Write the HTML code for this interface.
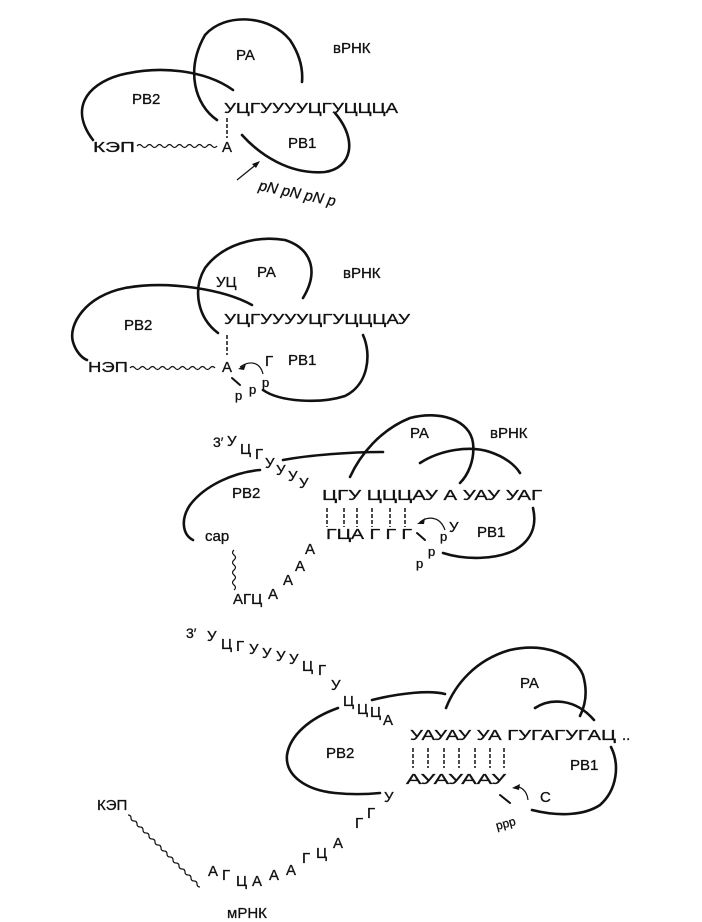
<!DOCTYPE html>
<html><head><meta charset="utf-8"><style>
html,body{margin:0;padding:0;background:#fff;}
svg{display:block;}
text{font-family:"Liberation Sans","DejaVu Sans",sans-serif;font-size:15px;fill:#111;stroke:#111;stroke-width:0.3;}
.l{fill:none;stroke:#111;stroke-width:2.6;stroke-linecap:round;}
.t{fill:none;stroke:#111;stroke-width:1.2;}
.d{fill:none;stroke:#111;stroke-width:1.5;stroke-dasharray:4 2;}
</style></head><body>
<svg width="702" height="922" viewBox="0 0 702 922" xmlns="http://www.w3.org/2000/svg">
<!-- Panel 1 -->
<path class="l" d="M217,120 C195,105 185,70 205,35 C225,12 270,15 290,40 C300,55 303,70 302,82"/>
<path class="l" d="M233,90 C205,70 160,65 120,75 C85,85 70,110 93,140"/>
<path class="l" d="M242,135 C260,155 290,175 325,172 C352,168 358,140 335,113"/>
<text x="236" y="60">PA</text>
<text x="333" y="53">вРНК</text>
<text x="132" y="104">PB2</text>
<text x="224" y="113" textLength="174" lengthAdjust="spacingAndGlyphs">УЦГУУУУЦГУЦЦЦА</text>
<text x="288" y="148">PB1</text>
<text x="93" y="152" textLength="42" lengthAdjust="spacingAndGlyphs">КЭП</text>
<path class="t" d="M137,146 q2.5,-3 5,0 t5,0 t5,0 t5,0 t5,0 t5,0 t5,0 t5,0 t5,0 t5,0 t5,0 t5,0 t5,0 t5,0 t5,0 t5,0"/>
<text x="222" y="152">А</text>
<path class="d" d="M227,118 L227,138"/>
<path class="t" d="M237,180 L258,163"/><path d="M260,161 L252,164 L256,168 Z" fill="#111"/>
<text x="258" y="190" transform="rotate(12 258 190)" font-style="italic">pN pN pN p</text>
<!-- Panel 2 -->
<path class="l" d="M218,333 C198,318 192,290 205,268 C222,245 255,235 285,240 C310,248 320,270 303,298"/>
<path class="l" d="M252,305 C225,290 170,280 125,288 C85,296 68,325 73,342 C76,352 82,358 87,360"/>
<path class="l" d="M263,390 C280,402 320,404 345,396 C368,385 372,355 363,335"/>
<text x="216" y="287">УЦ</text>
<text x="257" y="277">PA</text>
<text x="343" y="278">вРНК</text>
<text x="124" y="330">PB2</text>
<text x="224" y="324" textLength="186" lengthAdjust="spacingAndGlyphs">УЦГУУУУЦГУЦЦЦАУ</text>
<text x="288" y="365">PB1</text>
<text x="88" y="372" textLength="40" lengthAdjust="spacingAndGlyphs">НЭП</text>
<path class="t" d="M130,368 q2.5,-3 5,0 t5,0 t5,0 t5,0 t5,0 t5,0 t5,0 t5,0 t5,0 t5,0 t5,0 t5,0 t5,0 t5,0 t5,0 t5,0 t5,0"/>
<text x="222" y="372">А</text>
<path class="d" d="M227,335 L227,355"/>
<text x="265" y="366">Г</text>
<path class="t" d="M263,374 C260,362 250,360 240,367"/><path d="M238,369 L246,364 L244,370 Z" fill="#111"/>
<path class="l" d="M232,378 L240,385" style="stroke-width:2"/>
<text x="235" y="400" style="font-size:13px">p</text>
<text x="249" y="394" style="font-size:13px">p</text>
<text x="262" y="387" style="font-size:13px">p</text>
<!-- Panel 3 -->
<path class="l" d="M350,477 C360,455 380,430 410,418 C440,410 470,420 473,443 C475,460 468,475 460,483"/>
<path class="l" d="M283,460 C310,455 350,452 383,452"/>
<path class="l" d="M260,470 C235,472 205,485 190,505 C180,520 183,535 193,540"/>
<path class="l" d="M420,463 C440,450 470,445 490,452 C505,457 515,465 520,473"/>
<path class="l" d="M533,508 C537,525 532,540 515,550 C495,560 465,560 443,553"/>
<text x="213" y="447" style="font-size:14px">3′</text>
<text x="227" y="446">У</text><text x="240" y="454">Ц</text><text x="255" y="459">Г</text>
<text x="265" y="468">У</text><text x="276" y="475">У</text><text x="288" y="481">У</text><text x="299" y="488">У</text>
<text x="322" y="500" textLength="220" lengthAdjust="spacingAndGlyphs">ЦГУ ЦЦЦАУ А УАУ УАГ</text>
<g class="d"><path d="M327,508V527"/><path d="M344,508V527"/><path d="M357,508V527"/><path d="M372,508V527"/><path d="M390,508V527"/><path d="M405,508V527"/></g>
<text x="326" y="539" textLength="86" lengthAdjust="spacingAndGlyphs">ГЦА Г Г Г</text>
<text x="305" y="554">А</text><text x="295" y="571">А</text><text x="283" y="585">А</text><text x="268" y="599">А</text>
<text x="233" y="604">АГЦ</text>
<text x="205" y="541">cap</text>
<path class="t" d="M234,550 q-3,2.5 0,5 t0,5 t0,5 t0,5 t0,5 t0,5 t0,5 t0,5"/>
<text x="410" y="438">PA</text>
<text x="490" y="438">вРНК</text>
<text x="232" y="498">PB2</text>
<text x="477" y="537">PB1</text>
<text x="449" y="532">У</text>
<path class="t" d="M445,530 C440,516 428,516 420,522"/><path d="M417,524 L425,518 L424,524 Z" fill="#111"/>
<path class="l" d="M417,533 L425,540" style="stroke-width:2"/>
<text x="440" y="541" style="font-size:13px">p</text>
<text x="428" y="556" style="font-size:13px">p</text>
<text x="416" y="568" style="font-size:13px">p</text>
<!-- Panel 4 -->
<text x="186" y="638" style="font-size:14px">3′</text>
<text x="207" y="641">У</text><text x="221" y="649">Ц</text><text x="236" y="651">Г</text>
<text x="249" y="654">У</text><text x="262" y="658">У</text><text x="276" y="661">У</text><text x="289" y="664">У</text>
<text x="302" y="671">Ц</text><text x="318" y="675">Г</text><text x="331" y="690">У</text>
<text x="343" y="706">Ц</text><text x="357" y="714">Ц</text><text x="370" y="717">Ц</text><text x="383" y="725">А</text>
<text x="410" y="740" textLength="206" lengthAdjust="spacingAndGlyphs">УАУАУ УА ГУГАГУГАЦ</text>
<text x="622" y="740">..</text>
<g class="d"><path d="M413,748V768"/><path d="M428,748V768"/><path d="M444,748V768"/><path d="M459,748V768"/><path d="M475,748V768"/><path d="M490,748V768"/><path d="M504,748V768"/></g>
<text x="406" y="784" textLength="100" lengthAdjust="spacingAndGlyphs">АУАУААУ</text>
<text x="384" y="802">У</text><text x="367" y="818">Г</text><text x="355" y="828">Г</text>
<text x="333" y="848">А</text><text x="316" y="858">Ц</text><text x="302" y="863">Г</text>
<text x="286" y="875">А</text><text x="269" y="880">А</text><text x="252" y="886">А</text>
<text x="236" y="886">Ц</text><text x="222" y="880">Г</text><text x="208" y="876">А</text>
<text x="97" y="810">КЭП</text>
<path class="t" d="M128,815 q3,0 3,3 t3,3 t3,3 t3,3 t3,3 t3,3 t3,3 t3,3 t3,3 t3,3 t3,3 t3,3 t3,3 t3,3 t3,3 t3,3 t3,3 t3,3 t3,3 t3,3 t3,3 t3,3 t3,3 t3,3"/>
<text x="227" y="918">мРНК</text>
<path class="l" d="M338,708 C310,718 290,735 287,755 C285,775 305,790 335,793 C355,795 370,794 380,793"/>
<path class="l" d="M372,700 C400,693 430,690 445,694"/>
<path class="l" d="M446,708 C455,685 475,660 510,650 C545,642 575,655 583,675 C588,692 585,706 580,716"/>
<path class="l" d="M535,708 C550,698 575,698 594,720"/>
<path class="l" d="M611,747 C620,765 617,790 600,805 C585,815 560,817 532,810"/>
<text x="520" y="688">PA</text>
<text x="326" y="758">PB2</text>
<text x="570" y="770">PB1</text>
<text x="540" y="802">C</text>
<path class="t" d="M528,800 C527,790 520,786 515,787"/><path d="M512,788 L520,784 L519,790 Z" fill="#111"/>
<path class="l" d="M500,795 L510,803" style="stroke-width:2"/>
<text x="497" y="830" style="font-size:12px" transform="rotate(-15 497 830)">ppp</text>
</svg>
</body></html>
